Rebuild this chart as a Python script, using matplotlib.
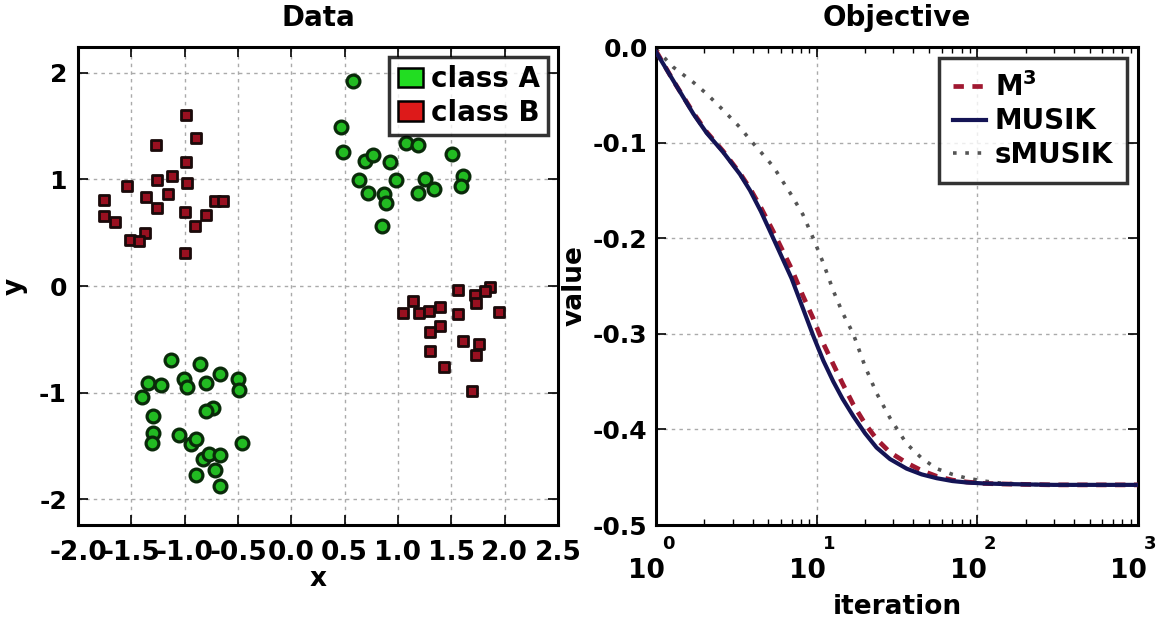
import math
import matplotlib
matplotlib.use("Agg")
import matplotlib.pyplot as plt
from matplotlib.patches import Patch
from matplotlib.ticker import FixedLocator, FuncFormatter, LogLocator, NullFormatter

plt.rcParams['font.family'] = ['DejaVu Sans']
plt.rcParams['font.weight'] = 'bold'
plt.rcParams['axes.unicode_minus'] = False
plt.rcParams['mathtext.default'] = 'bf'

# ---------------- data: left panel ----------------
classA_x = [0.575, 0.466, 0.48, 0.694, 0.77, 0.926, 1.075, 1.185, 1.506, 0.638, 0.98,
            0.716, 0.87, 0.886, 1.255, 1.185, 1.34, 1.605, 1.59, 0.85,
            -1.13, -0.86, -0.665, -0.50, -0.49, -1.34, -1.22, -1.40, -1.01, -0.98,
            -0.80, -1.30, -0.73, -0.80, -1.30, -1.31, -1.05, -0.94, -0.89, -0.46,
            -0.83, -0.77, -0.67, -0.72, -0.89, -0.67]
classA_y = [1.92, 1.49, 1.26, 1.17, 1.23, 1.16, 1.34, 1.32, 1.24, 0.99, 0.99,
            0.87, 0.86, 0.78, 1.00, 0.87, 0.905, 1.03, 0.94, 0.56,
            -0.69, -0.73, -0.82, -0.87, -0.97, -0.91, -0.93, -1.04, -0.87, -0.95,
            -0.905, -1.22, -1.14, -1.17, -1.38, -1.47, -1.40, -1.48, -1.43, -1.47,
            -1.62, -1.57, -1.585, -1.72, -1.77, -1.87]
classB_x = [-0.99, -0.896, -1.27, -0.99, -0.98, -1.12, -1.26, -1.54, -1.16, -1.36,
            -1.26, -1.76, -1.76, -1.65, -1.0, -0.906, -0.796, -0.72, -0.64, -1.51,
            -1.37, -1.43, -1.0,
            1.56, 1.86, 1.82, 1.72, 1.73, 1.14, 1.05, 1.2, 1.29, 1.39, 1.56, 1.95,
            1.39, 1.30, 1.30, 1.61, 1.76, 1.73, 1.43, 1.69]
classB_y = [1.60, 1.39, 1.32, 1.16, 0.97, 1.03, 0.99, 0.94, 0.865, 0.83,
            0.73, 0.81, 0.66, 0.60, 0.69, 0.56, 0.67, 0.80, 0.80, 0.43,
            0.50, 0.42, 0.31,
            -0.04, -0.006, -0.05, -0.08, -0.16, -0.14, -0.25, -0.25, -0.23, -0.20, -0.265, -0.24,
            -0.37, -0.43, -0.61, -0.515, -0.54, -0.65, -0.755, -0.98]
x_ticks_left = [-2.0, -1.5, -1.0, -0.5, 0.0, 0.5, 1.0, 1.5, 2.0, 2.5]
y_ticks_left = [-2, -1, 0, 1, 2]

# ---------------- data: right panel ----------------
iterations = [1, 1.28, 1.71, 2.07, 2.62, 3.33, 3.85, 4.5, 5.37, 6.98, 8.2, 9.52, 11, 12.7,
              14.5, 16.9, 20, 23.6, 28.6, 36.3, 45, 55.8, 70, 85.9, 110, 138, 200, 300,
              500, 1000]
m3_values = [-0.004, -0.035, -0.069, -0.089, -0.109, -0.132, -0.148, -0.168, -0.193,
             -0.232, -0.26, -0.284, -0.31, -0.332, -0.352, -0.374, -0.394, -0.41, -0.424,
             -0.435, -0.443, -0.449, -0.453, -0.455, -0.4565, -0.457, -0.4575, -0.458,
             -0.458, -0.458]
musik_values = [-0.005, -0.035, -0.070, -0.090, -0.110, -0.133, -0.150, -0.172, -0.200,
                -0.242, -0.273, -0.302, -0.328, -0.350, -0.368, -0.386, -0.404, -0.419,
                -0.431, -0.441, -0.447, -0.451, -0.454, -0.4555, -0.4565, -0.457, -0.4575,
                -0.458, -0.458, -0.458]
smusik_values = [-0.002, -0.021, -0.037, -0.049, -0.066, -0.084, -0.097, -0.110, -0.125,
                 -0.155, -0.175, -0.200, -0.226, -0.255, -0.278, -0.300, -0.334, -0.362,
                 -0.388, -0.415, -0.430, -0.441, -0.447, -0.451, -0.454, -0.456, -0.4575,
                 -0.458, -0.458, -0.458]
y_ticks_right = [0.0, -0.1, -0.2, -0.3, -0.4, -0.5]
x_ticks_right = [1, 10, 100, 1000]

FS_TICK_X = 19
FS_TICK_Y = 18
FS_LAB = 19
FS_TITLE = 20
FS_LEG = 20
GRID = dict(color='#aaaaaa', linestyle=(0, (2.5, 3)), linewidth=1.0)

fig = plt.figure(figsize=(11.61, 6.22), dpi=100)

# ---------------- left panel ----------------
ax1 = fig.add_axes([0.0672, 0.1559, 0.4134, 0.7685])
ax1.scatter(classA_x, classA_y, s=85, marker='o', facecolor='#22bb22',
            edgecolor='#0a2a0a', linewidth=2.3, zorder=3)
ax1.scatter(classB_x, classB_y, s=45, marker='s', facecolor='#991020',
            edgecolor='#1a0a0a', linewidth=2.0, zorder=3)
ax1.set_xlim(-2.0, 2.5)
ax1.set_ylim(-2.24, 2.24)
ax1.xaxis.set_major_locator(FixedLocator(x_ticks_left))
ax1.yaxis.set_major_locator(FixedLocator(y_ticks_left))
ax1.xaxis.set_major_formatter(FuncFormatter(lambda v, p: '%.1f' % v))
ax1.yaxis.set_major_formatter(FuncFormatter(lambda v, p: '%d' % v))
ax1.grid(True, **GRID)
ax1.set_title('Data', fontsize=FS_TITLE, fontweight='bold', pad=15)
ax1.set_xlabel('x', fontsize=FS_LAB, fontweight='bold', labelpad=0)
ax1.set_ylabel('y', fontsize=FS_LAB, fontweight='bold', labelpad=8)
handles = [Patch(facecolor='#22dd22', edgecolor='black', linewidth=1.8, label='class A'),
           Patch(facecolor='#dd1a1a', edgecolor='black', linewidth=1.8, label='class B')]
leg1 = ax1.legend(handles=handles, loc='upper right', fontsize=FS_LEG, frameon=True,
                  fancybox=False, handlelength=0.9, handleheight=0.7, handletextpad=0.3,
                  borderpad=0.3, labelspacing=0.2, borderaxespad=0.35)
leg1.get_frame().set_edgecolor('black')
leg1.get_frame().set_linewidth(2.5)

# ---------------- right panel ----------------
ax2 = fig.add_axes([0.565, 0.1559, 0.4152, 0.7685])
ax2.plot(iterations, m3_values, color='#a01830', linestyle=(0, (2.2, 1.8)), linewidth=3.4,
         label=r'M$^3$', zorder=3)
ax2.plot(iterations, musik_values, color='#141455', linestyle='-', linewidth=3.0,
         label='MUSIK', zorder=4)
ax2.plot(iterations, smusik_values, color='#555555', linestyle=(0, (1, 2.4)), linewidth=2.6,
         label='sMUSIK', zorder=2)
ax2.set_xscale('log')
ax2.set_xlim(1, 1000)
ax2.set_ylim(-0.5, 0.0)
ax2.yaxis.set_major_locator(FixedLocator(y_ticks_right))
ax2.yaxis.set_major_formatter(FuncFormatter(lambda v, p: '%.1f' % v))
ax2.xaxis.set_major_locator(FixedLocator(x_ticks_right))
ax2.xaxis.set_minor_locator(LogLocator(base=10, subs=range(2, 10), numticks=20))
ax2.xaxis.set_minor_formatter(NullFormatter())
ax2.xaxis.set_major_formatter(FuncFormatter(lambda v, p: '10  '))
ax2.grid(True, which='major', **GRID)
ax2.set_title('Objective', fontsize=FS_TITLE, fontweight='bold', pad=15)
ax2.set_xlabel('iteration', fontsize=FS_LAB, fontweight='bold', labelpad=7)
ax2.set_ylabel('value', fontsize=FS_LAB, fontweight='bold', labelpad=4)
# exponents of the 10^n labels, raised above the base as in the original rendering
for t in x_ticks_right:
    ax2.annotate('%d' % round(math.log10(t)), xy=(t, 0), xycoords=ax2.get_xaxis_transform(),
                 xytext=(9, -14), textcoords='offset points', ha='center', va='center',
                 fontsize=13, fontweight='bold', annotation_clip=False)
leg2 = ax2.legend(loc='upper right', fontsize=FS_LEG, frameon=True, fancybox=False,
                  handlelength=1.2, handletextpad=0.3, borderpad=0.5, labelspacing=0.2,
                  borderaxespad=0.4)
leg2.get_frame().set_edgecolor('black')
leg2.get_frame().set_linewidth(2.5)

for ax in (ax1, ax2):
    for sp in ax.spines.values():
        sp.set_linewidth(2.2)
    ax.tick_params(which='major', direction='in', length=7, width=1.2,
                   top=True, right=True)
    ax.tick_params(which='minor', direction='in', length=4, width=1.0, top=True)
    ax.tick_params(axis='x', which='major', labelsize=FS_TICK_X, pad=11)
    ax.tick_params(axis='y', which='major', labelsize=FS_TICK_Y, pad=8)
    for lab in ax.get_xticklabels() + ax.get_yticklabels():
        lab.set_fontweight('bold')
ax2.tick_params(axis='x', which='major', labelsize=FS_TICK_X, pad=24)
ax2.tick_params(axis='y', which='major', pad=6)

fig.savefig('out.png', dpi=100)
